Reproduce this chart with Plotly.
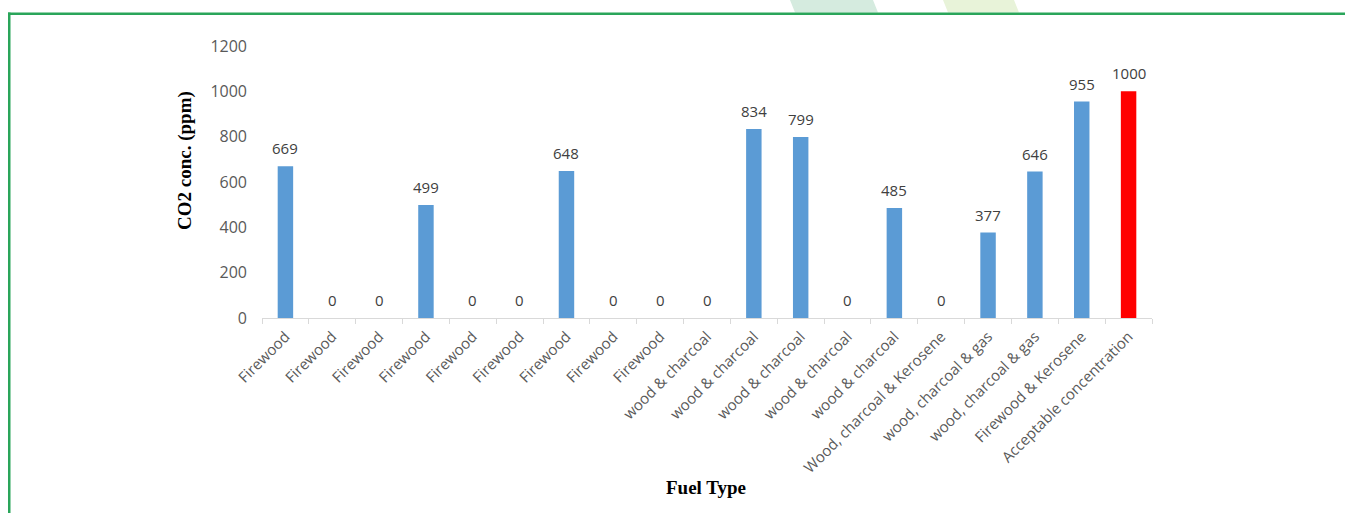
import plotly.graph_objects as go

# Fuel types used in each household and the measured CO2 concentration (ppm)
fuel_types = [
    "Firewood", "Firewood", "Firewood", "Firewood", "Firewood", "Firewood",
    "Firewood", "Firewood", "Firewood", "wood & charcoal", "wood & charcoal",
    "wood & charcoal", "wood & charcoal", "wood & charcoal",
    "Wood, charcoal & Kerosene", "wood, charcoal & gas",
    "wood, charcoal & gas", "Firewood & Kerosene", "Acceptable concentration",
]
co2_ppm = [669, 0, 0, 499, 0, 0, 648, 0, 0, 0, 834, 799, 0, 485, 0, 377, 646, 955, 1000]
y_ticks = [0, 200, 400, 600, 800, 1000, 1200]

BLUE = "#5b9bd5"
RED = "#ff0000"
positions = list(range(len(fuel_types)))
bar_colors = [RED if name == "Acceptable concentration" else BLUE for name in fuel_types]

W, H = 1345, 513
L, R, T, B = 262, 193, 46, 195
PW, PH = W - L - R, H - T - B


def px(x):
    return (x - L) / PW


def py(y):
    return (H - B - y) / PH


fig = go.Figure(
    go.Bar(
        x=positions,
        y=co2_ppm,
        width=0.33,
        marker=dict(color=bar_colors, line=dict(width=0)),
        hovertext=fuel_types,
        showlegend=False,
    )
)

# value labels above each bar
annotations = [
    dict(
        x=i, y=v, xref="x", yref="y", text=str(v), showarrow=False,
        yanchor="bottom", yshift=6,
        font=dict(family="Open Sans", size=15, color="#404040"),
    )
    for i, v in zip(positions, co2_ppm)
]

# axis titles
annotations.append(dict(
    x=px(706), y=py(487), xref="paper", yref="paper", text="<b>Fuel Type</b>",
    showarrow=False, xanchor="center", yanchor="middle",
    font=dict(family="Liberation Serif", size=19, color="#000000"),
))
annotations.append(dict(
    x=px(185), y=py(161), xref="paper", yref="paper", text="<b>CO2 conc. (ppm)</b>",
    showarrow=False, xanchor="center", yanchor="middle", textangle=-90,
    font=dict(family="Liberation Serif", size=19, color="#000000"),
))

GREEN = "#2aa55a"
shapes = [
    # frame lines
    dict(type="rect", xref="paper", yref="paper", x0=px(8), x1=px(W), y0=py(12.5), y1=py(15),
         fillcolor=GREEN, line=dict(width=0), layer="above"),
    dict(type="rect", xref="paper", yref="paper", x0=px(8), x1=px(10.5), y0=py(12.5), y1=py(H),
         fillcolor=GREEN, line=dict(width=0), layer="above"),
    # slanted header tabs
    dict(type="path", xref="paper", yref="paper",
         path=f"M {px(790)} {py(0)} L {px(873)} {py(0)} L {px(878)} {py(12.5)} L {px(795)} {py(12.5)} Z",
         fillcolor="#d5ebdf", line=dict(width=0), layer="below"),
    dict(type="path", xref="paper", yref="paper",
         path=f"M {px(943)} {py(0)} L {px(1014)} {py(0)} L {px(1019)} {py(12.5)} L {px(948)} {py(12.5)} Z",
         fillcolor="#e8f3d9", line=dict(width=0), layer="below"),
]

fig.update_layout(
    width=W, height=H,
    margin=dict(l=L, r=R, t=T, b=B, autoexpand=False),
    paper_bgcolor="white", plot_bgcolor="white",
    annotations=annotations,
    shapes=shapes,
    xaxis=dict(
        range=[-0.5, len(fuel_types) - 0.5],
        tickmode="array", tickvals=positions, ticktext=fuel_types,
        tickangle=-45, ticks="", ticklabelstandoff=3,
        tickfont=dict(family="Open Sans", size=15, color="#595959"),
        showline=True, linecolor="#d9d9d9", linewidth=1,
        showgrid=False, zeroline=False,
        minor=dict(tick0=-0.5, dtick=1, ticks="outside", ticklen=5,
                   tickcolor="#d9d9d9", tickwidth=1, showgrid=False),
        fixedrange=True,
    ),
    yaxis=dict(
        range=[0, 1200], tickmode="array", tickvals=y_ticks,
        ticks="", ticklabelstandoff=14,
        tickfont=dict(family="Open Sans", size=16, color="#595959"),
        showline=False, showgrid=False, zeroline=False,
        fixedrange=True,
    ),
)

fig.write_html("out.html", config={"displayModeBar": False})
